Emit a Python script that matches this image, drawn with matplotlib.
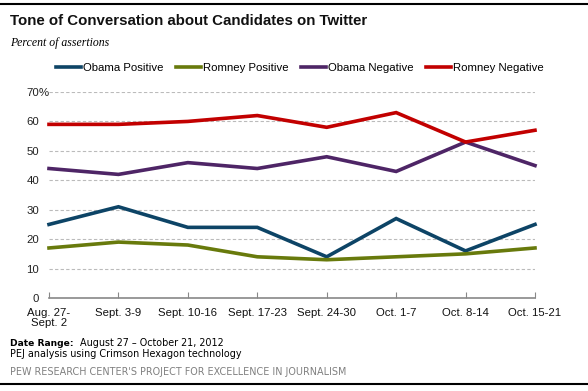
import matplotlib.pyplot as plt
from matplotlib.lines import Line2D

# DATA
weeks = ['Aug. 27-\nSept. 2', 'Sept. 3-9', 'Sept. 10-16', 'Sept. 17-23',
         'Sept. 24-30', 'Oct. 1-7', 'Oct. 8-14', 'Oct. 15-21']
obama_pos = [25, 31, 24, 24, 14, 27, 16, 25]
romney_pos = [17, 19, 18, 14, 13, 14, 15, 17]
obama_neg = [44, 42, 46, 44, 48, 43, 53, 45]
romney_neg = [59, 59, 60, 62, 58, 63, 53, 57]
yticks = [0, 10, 20, 30, 40, 50, 60, 70]
ytick_labels = ['0', '10', '20', '30', '40', '50', '60', '70']

series = [
    ('Obama Positive', obama_pos, '#0d4466'),
    ('Romney Positive', romney_pos, '#687a0c'),
    ('Obama Negative', obama_neg, '#4e2566'),
    ('Romney Negative', romney_neg, '#c20000'),
]

plt.rcParams['font.family'] = ['Liberation Sans', 'DejaVu Sans']

W, H = 588, 391
fig = plt.figure(figsize=(W/100, H/100), dpi=100)
ax = fig.add_axes([49/W, 1 - 298/H, (535 - 49)/W, (298 - 92)/H])

x = list(range(len(weeks)))
for name, vals, col in series:
    ax.plot(x, vals, color=col, lw=2.6, solid_joinstyle='miter', clip_on=False)

ax.set_ylim(0, 70)
ax.set_xlim(0, len(weeks) - 1)
ax.set_yticks(yticks)
ax.set_yticklabels(ytick_labels, fontsize=8.2, color='#222222')
ax.set_xticks(x)
ax.set_xticklabels(weeks, fontsize=8.2, color='#111111', linespacing=1.05)
ax.tick_params(axis='y', length=0, pad=7)
ax.tick_params(axis='x', direction='in', length=4, color='#888888', pad=7)
ax.grid(axis='y', color='#bbbbbb', ls=(0, (3, 2)), lw=0.8)
for s in ['top', 'right', 'left']:
    ax.spines[s].set_visible(False)
ax.spines['bottom'].set_color('#888888')
ax.spines['bottom'].set_linewidth(1.2)
ax.set_axisbelow(True)
# percent sign after the top label
fig.text(39/W, 1 - 93/H, '%', fontsize=8.2, color='#222222', va='center', ha='left')

# legend
handles = [Line2D([], [], color=c, lw=2.6) for _, _, c in series]
fig.legend(handles, [n for n, _, _ in series], loc='center', ncol=4,
           bbox_to_anchor=(300/W, 1 - 68/H), frameon=False, fontsize=8.2,
           handlelength=2.2, handletextpad=0.15, columnspacing=1.1)

# title / notes
fig.text(10/W, 1 - 21/H, 'Tone of Conversation about Candidates on Twitter',
         fontsize=10.8, fontweight='bold', va='center', color='#111111')
fig.text(10/W, 1 - 43/H, 'Percent of assertions', fontsize=8.5,
         style='italic', va='center', family='Liberation Serif')
fig.text(10/W, 1 - 343/H, 'Date Range:', fontsize=6.6, fontweight='bold',
         va='center', family='DejaVu Sans')
fig.text(80/W, 1 - 343/H, 'August 27 \u2013 October 21, 2012', fontsize=6.9,
         va='center', family='DejaVu Sans')
fig.text(10/W, 1 - 354/H, 'PEJ analysis using Crimson Hexagon technology',
         fontsize=6.9, va='center', family='DejaVu Sans')
fig.text(10/W, 1 - 372/H, "PEW RESEARCH CENTER'S PROJECT FOR EXCELLENCE IN JOURNALISM",
         fontsize=6.9, va='center', color='#808080', family='DejaVu Sans')

# rules top and bottom
fig.add_artist(Line2D([0, 1], [1 - 4/H, 1 - 4/H], color='black', lw=1.5))
fig.add_artist(Line2D([0, 1], [1 - 384/H, 1 - 384/H], color='black', lw=1.5))

fig.savefig('out.png', dpi=100)
